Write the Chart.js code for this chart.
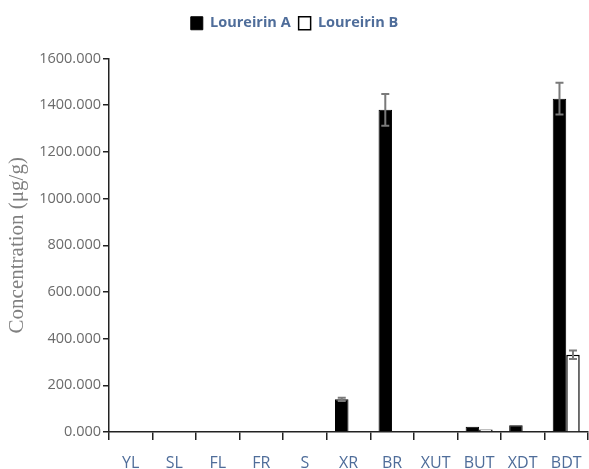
<!DOCTYPE html>
<html>
<head>
<meta charset="utf-8">
<script src="https://cdn.jsdelivr.net/npm/chart.js@4/dist/chart.umd.min.js"></script>
<style>
  html, body { margin: 0; padding: 0; background: #fff; }
  #wrap { width: 589px; height: 469px; position: relative; }
</style>
</head>
<body>
<div id="wrap"><canvas id="c" width="589" height="469"></canvas></div>
<script>
// Tissue / sample categories
const categories = ['YL', 'SL', 'FL', 'FR', 'S', 'XR', 'BR', 'XUT', 'BUT', 'XDT', 'BDT'];

// Mean concentration (µg/g) per sample
const loureirinA = [3, 0, 0, 0, 0, 140, 1380, 0, 22, 29, 1428];
const loureirinB = [0, 0, 0, 0, 0, 0, 0, 0, 11, 0, 331];

// Standard deviations
const errA = [0, 0, 0, 0, 0, 7, 68, 0, 0, 0, 68];
const errB = [0, 0, 0, 0, 0, 0, 0, 0, 0, 0, 18];

// Y axis tick values
const yTicks = [0, 200, 400, 600, 800, 1000, 1200, 1400, 1600];

// Draws the error bars from the errors arrays through the chart's scales
const errorBars = {
  id: 'errorBars',
  afterDatasetsDraw(chart) {
    const { ctx } = chart;
    const y = chart.scales.y;
    ctx.save();
    ctx.strokeStyle = '#7a7a7a';
    ctx.lineWidth = 2;
    chart.data.datasets.forEach((ds, di) => {
      const meta = chart.getDatasetMeta(di);
      meta.data.forEach((bar, i) => {
        const e = ds.errors[i];
        if (!e) return;
        const v = ds.data[i];
        const x = bar.x;
        const yt = y.getPixelForValue(v + e);
        const yb = y.getPixelForValue(v - e);
        const cap = 4;
        ctx.beginPath();
        ctx.moveTo(x, yt); ctx.lineTo(x, yb);
        ctx.moveTo(x - cap, yt); ctx.lineTo(x + cap, yt);
        ctx.moveTo(x - cap, yb); ctx.lineTo(x + cap, yb);
        ctx.stroke();
      });
    });
    ctx.restore();
  }
};

// Leaves extra room between the legend and the plot
const legendGap = {
  id: 'legendGap',
  afterInit(chart) {
    const lg = chart.legend;
    const fit = lg.fit;
    lg.fit = function () {
      fit.call(this);
      this.height += 18;
    };
  }
};

new Chart(document.getElementById('c'), {
  type: 'bar',
  data: {
    labels: categories,
    datasets: [
      {
        label: 'Loureirin A',
        data: loureirinA,
        errors: errA,
        backgroundColor: '#000000',
        borderColor: '#000000',
        borderWidth: 1,
        categoryPercentage: 0.62,
        barPercentage: 1.0
      },
      {
        label: 'Loureirin B',
        data: loureirinB,
        errors: errB,
        backgroundColor: '#ffffff',
        borderColor: '#000000',
        borderWidth: 1.5,
        categoryPercentage: 0.62,
        barPercentage: 1.0
      }
    ]
  },
  options: {
    responsive: false,
    animation: false,
    devicePixelRatio: 1,
    layout: { padding: { left: 0, right: 0, top: 8, bottom: 0 } },
    plugins: {
      legend: {
        position: 'top',
        labels: {
          boxWidth: 12,
          boxHeight: 13,
          padding: 8,
          color: '#4f6d9a',
          font: { family: 'Open Sans', size: 14.5, weight: 'bold' }
        }
      },
      tooltip: { enabled: false }
    },
    scales: {
      x: {
        grid: {
          offset: true,
          drawOnChartArea: false,
          drawTicks: true,
          tickLength: 8,
          color: '#222',
          lineWidth: 1.5
        },
        border: { display: true, color: '#222', width: 1.5 },
        ticks: {
          color: '#4f6d9a',
          padding: 14,
          maxRotation: 0,
          autoSkip: false,
          font: { family: 'Open Sans', size: 16 }
        },
        afterFit(scale) {
          scale.height = 37;
          scale.paddingLeft = 0;
          scale.paddingRight = 1;
        }
      },
      y: {
        min: 0,
        max: 1600,
        afterBuildTicks(scale) { scale.ticks = yTicks.map(v => ({ value: v })); },
        grid: {
          drawOnChartArea: false,
          drawTicks: true,
          tickLength: 6,
          color: '#222',
          lineWidth: 1.5
        },
        border: { display: true, color: '#222', width: 1.5 },
        ticks: {
          color: '#6b6b6b',
          padding: 2,
          font: { family: 'Open Sans', size: 14.5 },
          callback: (v) => Number(v).toFixed(3)
        },
        title: {
          display: true,
          text: 'Concentration (μg/g)',
          color: '#808080',
          padding: { top: 5, bottom: 0 },
          font: { family: 'Liberation Serif', size: 21 }
        },
        afterFit(scale) { scale.width = 109; }
      }
    }
  },
  plugins: [errorBars, legendGap]
});
</script>
</body>
</html>
